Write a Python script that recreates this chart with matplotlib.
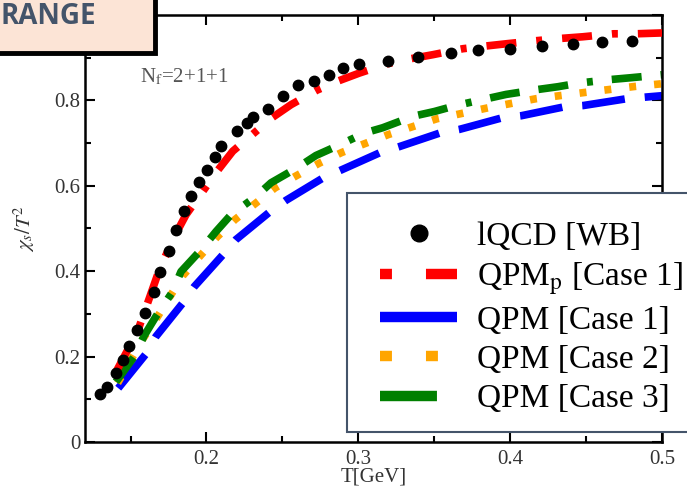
import matplotlib
matplotlib.use("Agg")
import matplotlib.pyplot as plt
from matplotlib.lines import Line2D
from matplotlib.patches import Rectangle
from matplotlib.ticker import MultipleLocator, FixedLocator, FixedFormatter

plt.rcParams['font.family'] = ['Liberation Serif', 'DejaVu Serif']
plt.rcParams['mathtext.fontset'] = 'stix'
plt.rcParams['lines.scale_dashes'] = False

# lattice QCD [WB] points
T_lqcd = [0.1298, 0.1345, 0.1402, 0.1448, 0.1487, 0.1542, 0.1597, 0.1656, 0.1694,
          0.1751, 0.1802, 0.1850, 0.1898, 0.1949, 0.2001, 0.2056, 0.2097, 0.2198,
          0.2267, 0.2304, 0.2402, 0.2504, 0.2601, 0.2708, 0.2806, 0.2899, 0.3003,
          0.3198, 0.3391, 0.3611, 0.3791, 0.4001, 0.4210, 0.4416, 0.4603, 0.4803]
chi_lqcd = [0.113, 0.129, 0.161, 0.191, 0.225, 0.263, 0.302, 0.351, 0.397,
            0.447, 0.496, 0.542, 0.575, 0.608, 0.637, 0.668, 0.694, 0.729,
            0.748, 0.760, 0.780, 0.810, 0.835, 0.845, 0.860, 0.875, 0.885,
            0.893, 0.902, 0.910, 0.919, 0.921, 0.927, 0.932, 0.936, 0.940]

# QPM_p [Case 1]
T_qpmp = [0.1404, 0.1545, 0.1613, 0.1694, 0.1740, 0.1802, 0.1865, 0.1984, 0.2074,
          0.2173, 0.2315, 0.2430, 0.2557, 0.2728, 0.2864, 0.3007, 0.3194, 0.3336,
          0.3490, 0.3688, 0.3830, 0.3984, 0.4177, 0.4329, 0.4478, 0.4682, 0.4829, 0.5]
chi_qpmp = [0.164, 0.258, 0.326, 0.408, 0.443, 0.490, 0.532, 0.591, 0.636,
            0.681, 0.724, 0.759, 0.790, 0.824, 0.845, 0.864, 0.886, 0.897,
            0.907, 0.921, 0.927, 0.933, 0.940, 0.945, 0.949, 0.956, 0.956, 0.958]

# QPM [Case 1]
T_c1 = [0.1419, 0.1601, 0.1667, 0.1843, 0.1920, 0.2107, 0.2194, 0.2414, 0.2524,
        0.2761, 0.2881, 0.3145, 0.3264, 0.3540, 0.3665, 0.3945, 0.4072, 0.4357,
        0.4482, 0.4768, 0.5]
chi_c1 = [0.126, 0.206, 0.247, 0.325, 0.364, 0.438, 0.474, 0.538, 0.566,
          0.617, 0.636, 0.678, 0.691, 0.724, 0.732, 0.759, 0.764, 0.785,
          0.788, 0.804, 0.811]

# QPM [Case 2]
T_c2 = [0.1415, 0.1580, 0.1672, 0.1843, 0.1959, 0.2069, 0.2188, 0.2320, 0.2451,
        0.2594, 0.2743, 0.2891, 0.3198, 0.3518, 0.3846, 0.4171, 0.4500, 0.4829, 0.5]
chi_c2 = [0.138, 0.241, 0.290, 0.389, 0.436, 0.480, 0.521, 0.558, 0.595,
          0.624, 0.653, 0.678, 0.720, 0.757, 0.782, 0.804, 0.819, 0.833, 0.839]

# QPM [Case 3]
T_c3 = [0.1404, 0.1524, 0.1590, 0.1667, 0.1777, 0.1832, 0.1964, 0.2063, 0.2161,
        0.2326, 0.2425, 0.2596, 0.2721, 0.2853, 0.3044, 0.3161, 0.3362, 0.3501,
        0.3644, 0.3846, 0.3973, 0.4171, 0.4314, 0.4462, 0.4665, 0.4792, 0.5]
chi_c3 = [0.141, 0.200, 0.249, 0.294, 0.352, 0.399, 0.450, 0.493, 0.532,
          0.575, 0.607, 0.642, 0.671, 0.692, 0.724, 0.736, 0.763, 0.774,
          0.788, 0.804, 0.814, 0.825, 0.832, 0.841, 0.849, 0.853, 0.860]

labels = ['lQCD [WB]', r'QPM$_\mathrm{p}$ [Case 1]', 'QPM [Case 1]',
          'QPM [Case 2]', 'QPM [Case 3]']

W, H = 687, 487
fig = plt.figure(figsize=(W / 100, H / 100), dpi=100)
ax = fig.add_axes([85 / W, 1 - 442 / H, (662 - 85) / W, (442 - 15) / H])

lw = 5.5
ax.plot(T_c1, chi_c1, color='blue', lw=lw, dashes=(31, 14.4), zorder=2)
ax.plot(T_c2, chi_c2, color='orange', lw=lw, dashes=(5, 13), zorder=2)
ax.plot(T_c3, chi_c3, color='green', lw=lw,
        dashes=(21.6, 13.7, 21.6, 13.7, 4.3, 13.7), zorder=2)
ax.plot(T_qpmp, chi_qpmp, color='red', lw=lw, dashes=(21.6, 14.4, 4.3, 14.4), zorder=3)
ax.plot(T_lqcd, chi_lqcd, 'o', color='black', ms=7.5, zorder=4)

ax.set_xlim(0.12, 0.5)
ax.set_ylim(0, 1.0)
ax.xaxis.set_major_locator(FixedLocator([0.2, 0.3, 0.4, 0.5]))
ax.xaxis.set_major_formatter(FixedFormatter(['0.2', '0.3', '0.4', '0.5']))
ax.xaxis.set_minor_locator(MultipleLocator(0.05))
# the label at 1 sits under the corner box
ax.yaxis.set_major_locator(FixedLocator([0, 0.2, 0.4, 0.6, 0.8, 1.0]))
ax.yaxis.set_major_formatter(FixedFormatter(['0', '0.2', '0.4', '0.6', '0.8', '']))
ax.yaxis.set_minor_locator(MultipleLocator(0.1))
ax.tick_params(which='both', direction='in', top=True, right=True, width=1.5,
               labelsize=15, labelcolor='#333333')
ax.tick_params(which='major', length=7)
ax.tick_params(axis='x', which='major', pad=6)
ax.tick_params(which='minor', length=4.5)
for s in ax.spines.values():
    s.set_linewidth(1.8)

ax.set_xlabel('T[GeV]', fontsize=15, color='#333333', labelpad=-1)
ax.set_ylabel(r'$\chi_s/T^2$', fontsize=15, color='#333333', labelpad=12)
fig.text(140 / W, 1 - 82 / H, r'N$_\mathrm{f}$=2+1+1', fontsize=15, color='#555555')

# legend frame drawn by hand, running past the right edge
fig.patches.append(Rectangle((347 / W, 1 - 432 / H), 400 / W, (432 - 193) / H,
                             transform=fig.transFigure, fc='white', ec='#44546a',
                             lw=1.5, zorder=3))
lw_leg = 7.5
handles = [
    Line2D([], [], ls='none', marker='o', color='black', ms=12),
    Line2D([], [], color='red', lw=lw_leg, dashes=(8.6, 24.5, 30, 20)),
    Line2D([], [], color='blue', lw=lw_leg, dashes=(60, 15)),
    Line2D([], [], color='orange', lw=lw_leg, dashes=(8.6, 24.5)),
    Line2D([], [], color='green', lw=lw_leg, dashes=(41, 20)),
]
fig.legend(handles, labels, loc='upper left', bbox_to_anchor=(380 / W, 1 - 221 / H),
           bbox_transform=fig.transFigure, frameon=False, prop={'size': 24},
           handlelength=2.31, handletextpad=0.6, borderpad=0, borderaxespad=0,
           labelspacing=0.26)

# cropped title box in the corner
fig.patches.append(Rectangle((-0.05, 1 - 53 / H), 0.05 + 155 / W, 0.2,
                             transform=fig.transFigure, fc='#fce4d6', ec='black',
                             lw=3.5, zorder=6))
fig.text(96 / W, 1 - 24 / H, 'RANGE', ha='right', fontsize=20, fontweight='bold',
         family='Open Sans', color='#44546a', zorder=7)

fig.savefig('out.png', dpi=100)
